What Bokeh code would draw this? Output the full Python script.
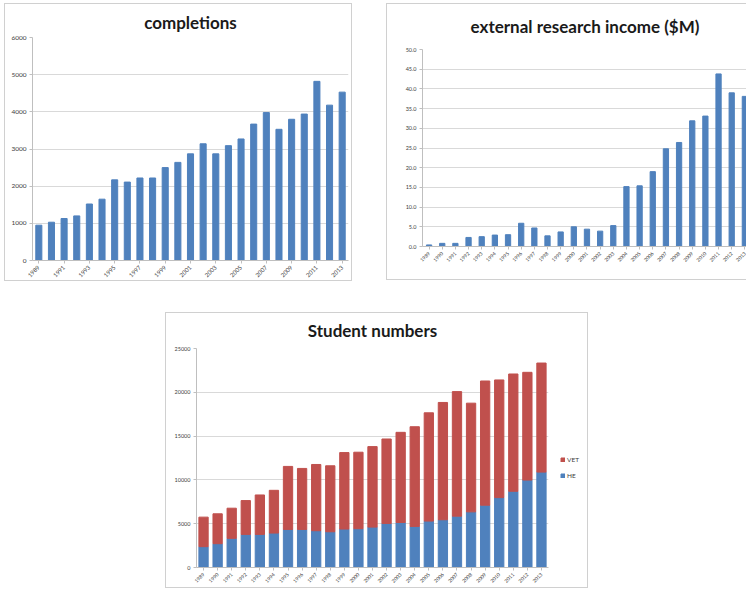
from math import pi
from bokeh.plotting import figure
from bokeh.models import (ColumnDataSource, Range1d, FixedTicker, NumeralTickFormatter,
                          Legend, LegendItem)
from bokeh.embed import file_html
from bokeh.resources import INLINE

# ---------------- data ----------------
years = list(range(1989, 2014))
completion_tick_years = years[::2]
completion_tick_labels = [str(y) for y in completion_tick_years]
year_labels = [str(y) for y in years]

completions = [950, 1030, 1130, 1200, 1520, 1650, 2170, 2110, 2220, 2220,
               2500, 2640, 2870, 3140, 2870, 3090, 3270, 3670, 3980, 3530,
               3800, 3940, 4820, 4180, 4530]
completion_yticks = [0, 1000, 2000, 3000, 4000, 5000, 6000]

income = [0.4, 0.8, 0.8, 2.3, 2.5, 2.9, 3.0, 5.9, 4.7, 2.7,
          3.7, 5.0, 4.4, 3.9, 5.3, 15.2, 15.4, 19.0, 24.8, 26.4,
          31.9, 33.1, 43.8, 39.0, 38.1]
income_yticks = [0, 5, 10, 15, 20, 25, 30, 35, 40, 45, 50]

he = [2380, 2720, 3330, 3780, 3780, 3930, 4350, 4350, 4200, 4080,
      4390, 4430, 4610, 5030, 5140, 4690, 5300, 5450, 5860, 6350,
      7110, 7980, 8700, 9980, 10890]
vet = [3370, 3410, 3440, 3860, 4500, 4880, 7190, 6960, 7560, 7530,
       8730, 8730, 9190, 9640, 10290, 11380, 12360, 13390, 14220, 12410,
       14180, 13430, 13390, 12300, 12450]
student_yticks = [0, 5000, 10000, 15000, 20000, 25000]
series_names = ["VET", "HE"]

BLUE = "#4F81BD"
RED = "#C0504D"
GRID = "#d9d9d9"
AXIS = "#bfbfbf"
TXT = "#404040"
FONT = "Lato"
BORDER = "1px solid #d0d0d0"


def place(left, top, sides=("left", "top", "right", "bottom")):
    st = {"position": "absolute", "left": f"{left}px", "top": f"{top}px"}
    for s in sides:
        st[f"border-{s}"] = BORDER
    return st


def style(p, title, standoff, xsize, ysize, valign="bottom"):
    p.title.text = title
    p.title.align = "center"
    p.title.vertical_align = valign
    p.title.text_font = FONT
    p.title.text_font_style = "bold"
    p.title.text_font_size = "17px"
    p.title.text_color = "#1a1a1a"
    p.title.standoff = standoff
    p.outline_line_color = None
    p.xgrid.grid_line_color = None
    p.ygrid.grid_line_color = GRID
    for ax in (p.xaxis[0], p.yaxis[0]):
        ax.axis_line_color = AXIS
        ax.major_tick_line_color = AXIS
        ax.minor_tick_line_color = None
        ax.major_tick_in = 0
        ax.major_tick_out = 3
        ax.major_label_text_font = FONT
        ax.major_label_text_color = TXT
        ax.major_label_standoff = 3
    p.xaxis.major_label_text_font_size = xsize
    p.yaxis.major_label_text_font_size = ysize
    p.xaxis.major_label_orientation = pi / 4


x_start = years[0] - 0.5
x_end = years[-1] + 0.5

# ---------------- completions ----------------
src1 = ColumnDataSource(dict(year=years, value=completions))
p1 = figure(width=348, height=278, output_backend="svg", toolbar_location=None,
            x_range=Range1d(x_start, x_end), y_range=Range1d(0, 6000),
            min_border_left=27, min_border_right=5, min_border_top=33, min_border_bottom=22,
            styles=place(4, 3))
p1.vbar(x="year", top="value", width=0.48, color=BLUE, source=src1)
style(p1, "completions", 9, "6px", "6.5px")
p1.xaxis.ticker = FixedTicker(ticks=completion_tick_years)
p1.xaxis.major_label_overrides = dict(zip(completion_tick_years, completion_tick_labels))
p1.yaxis.ticker = FixedTicker(ticks=completion_yticks)

# ---------------- external research income ----------------
src2 = ColumnDataSource(dict(year=years, value=income))
p2 = figure(width=360, height=277, output_backend="svg", toolbar_location=None,
            x_range=Range1d(x_start, x_end - 0.3), y_range=Range1d(0, 50),
            min_border_left=35, min_border_right=0, min_border_top=45, min_border_bottom=35,
            styles=place(386, 3, ("left", "top", "bottom")))
p2.vbar(x="year", top="value", width=0.4, color=BLUE, source=src2)
style(p2, "external research income ($M)", 22, "5px", "5.5px", valign="top")
p2.xaxis.ticker = FixedTicker(ticks=years)
p2.xaxis.major_label_overrides = dict(zip(years, year_labels))
p2.yaxis.ticker = FixedTicker(ticks=income_yticks)
p2.yaxis.formatter = NumeralTickFormatter(format="0.0")

# ---------------- student numbers ----------------
src3 = ColumnDataSource(dict(year=years, HE=he, VET=vet))
p3 = figure(width=423, height=276, output_backend="svg", toolbar_location=None,
            x_range=Range1d(x_start, x_end), y_range=Range1d(0, 25000),
            min_border_left=30, min_border_right=41, min_border_top=34, min_border_bottom=22,
            styles=place(165, 312))
p3.vbar_stack(["HE", "VET"], x="year", width=0.66, color=[BLUE, RED], source=src3)
style(p3, "Student numbers", 12, "5px", "5.5px", valign="top")
p3.xaxis.ticker = FixedTicker(ticks=years)
p3.xaxis.major_label_overrides = dict(zip(years, year_labels))
p3.yaxis.ticker = FixedTicker(ticks=student_yticks)

# legend of the student chart, placed beside its plot area
pl = figure(width=24, height=28, output_backend="svg", toolbar_location=None,
            x_axis_type=None, y_axis_type=None, min_border=0,
            x_range=Range1d(0, 1), y_range=Range1d(0, 1),
            styles={"position": "absolute", "left": "560px", "top": "455px"})
pl.outline_line_color = None
pl.background_fill_color = None
pl.border_fill_color = None
# key renderers reuse the series data; their bars fall outside this tiny panel's range
r_vet_key = pl.vbar(x="year", top="VET", width=0.66, color=RED, source=src3)
r_he_key = pl.vbar(x="year", top="HE", width=0.66, color=BLUE, source=src3)
legend = Legend(items=[LegendItem(label=series_names[0], renderers=[r_vet_key]),
                       LegendItem(label=series_names[1], renderers=[r_he_key])],
                location="top_left", glyph_width=5, glyph_height=5,
                label_text_font=FONT, label_text_font_size="6.5px", label_text_color=TXT,
                label_standoff=2, label_height=8, label_width=14, spacing=8,
                padding=0, margin=0, border_line_color=None, background_fill_alpha=0)
pl.add_layout(legend)

open("out.html", "w").write(file_html([p1, p2, p3, pl], INLINE))
